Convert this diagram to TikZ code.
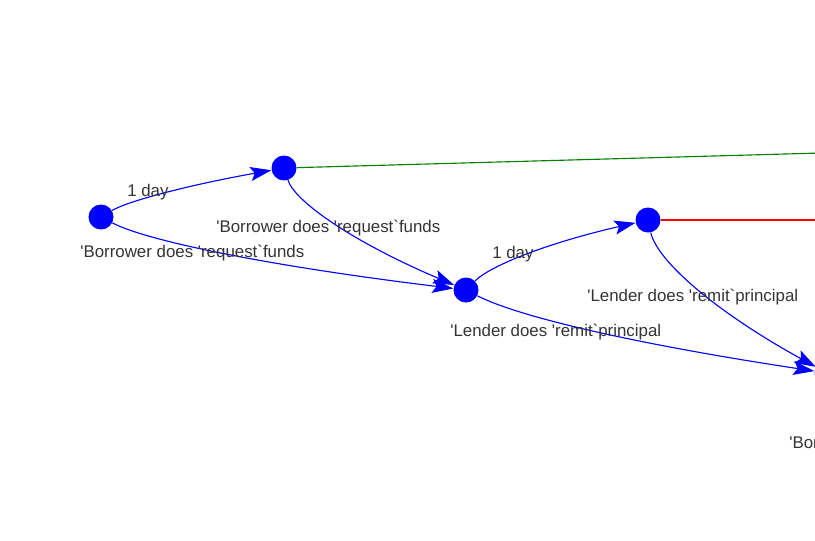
\documentclass[tikz,border=0pt]{standalone}
\usepackage{fontspec}
\setmainfont{Liberation Sans}[Ligatures=TeXOff]
\usetikzlibrary{arrows.meta}
\definecolor{labelgray}{HTML}{343434}
\definecolor{termgreen}{HTML}{008000}

\begin{document}
\begin{tikzpicture}[x=0.025cm, y=0.025cm,
    event/.style={circle, fill=blue, minimum size=0.625cm, inner sep=0pt},
    flow/.style={draw=blue, line width=0.8pt, -{Stealth[length=15pt, width=10pt, inset=3pt]}},
    tag/.style={anchor=west, inner sep=0pt, text=labelgray, font=\fontsize{12}{14}\selectfont}]
    \useasboundingbox (0,0) rectangle (815,-540);
    \clip (0,0) rectangle (815,-540);

    % events
    \node (start) [event] at (101,-217) {};
    \node (request) [event] at (284,-168) {};
    \node (remit) [event] at (466,-290) {};
    \node (repay) [event] at (648,-220) {};
    \node (close) [event] at (827,-373) {};
    \coordinate (expire) at (1000,-148);
    \coordinate (breach) at (1000,-220);

    % transitions
    \draw [flow] (start) .. controls (128,-201) and (189,-185) .. (request);
    \draw [flow] (start) .. controls (147,-241) and (269,-266) .. (remit);
    \draw [flow] (request) .. controls (295,-202) and (355,-243) .. (remit);
    \draw [flow] (remit) .. controls (491,-265) and (551,-242) .. (repay);
    \draw [flow] (remit) .. controls (521,-318) and (642,-345) .. (close);
    \draw [flow] (repay) .. controls (657,-261) and (716,-312) .. (close);
    \draw [termgreen, line width=0.8pt] (request) -- (expire);
    \draw [red, line width=0.8pt] (repay) -- (breach);

    % labels
    \node (dayone) [tag] at (127,-192) {1 day};
    \node (daytwo) [tag] at (492,-254) {1 day};
    \node (startlbl) [tag] at (80,-253) {'Borrower does 'request`funds};
    \node (requestlbl) [tag] at (216,-228) {'Borrower does 'request`funds};
    \node (remitlbl) [tag] at (450,-332) {'Lender does 'remit`principal};
    \node (repaylbl) [tag] at (587,-297) {'Lender does 'remit`principal};
    \node (closelbl) [tag] at (789,-444) {'Borrower does 'request`funds};

\end{tikzpicture}
\end{document}
